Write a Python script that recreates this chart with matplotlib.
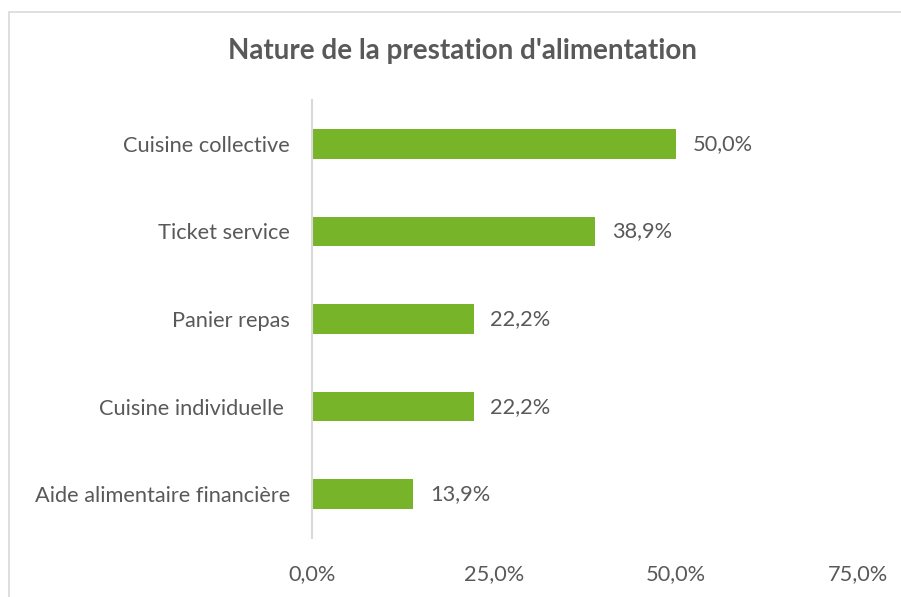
import matplotlib.pyplot as plt
from matplotlib.patches import Rectangle

categories = ["Cuisine collective", "Ticket service", "Panier repas",
              "Cuisine individuelle ", "Aide alimentaire financière"]
values = [50.0, 38.9, 22.2, 22.2, 13.9]
xticks = [0, 25, 50, 75]
title = "Nature de la prestation d'alimentation"

grey = "#595959"
green = "#77B42A"
plt.rcParams['font.family'] = ['Lato', 'DejaVu Sans']
fs = 15.7

fig = plt.figure(figsize=(9.01, 5.97), dpi=100)
# chart border (only top and left visible, rest cropped)
fig.patches.append(Rectangle((8.5 / 901, -0.1), 1.2, 1.1 - 11.5 / 597, transform=fig.transFigure,
                             fill=False, edgecolor="#D9D9D9", linewidth=1.2))

ax = fig.add_axes([312 / 901, 59 / 597, 546 / 901, 438 / 597])
y = list(range(len(categories)))
ax.barh(y, values, height=0.34, color=green)
ax.set_ylim(len(categories) - 0.5, -0.5)
ax.set_xlim(0, 75)
ax.set_yticks(y)
ax.set_yticklabels(categories, fontsize=fs, color=grey)
ax.set_xticks(xticks)
ax.set_xticklabels([f"{t:.1f}%".replace(".", ",") for t in xticks], fontsize=fs, color=grey)
ax.tick_params(axis="both", length=0)
ax.tick_params(axis="y", pad=16)
ax.tick_params(axis="x", pad=19)
for s in ["top", "right", "bottom"]:
    ax.spines[s].set_visible(False)
ax.spines["left"].set_color("#D9D9D9")
ax.spines["left"].set_linewidth(1.5)

for yi, v in zip(y, values):
    ax.annotate(f"{v:.1f}%".replace(".", ","), (v, yi), xytext=(12, 0), textcoords="offset points",
                va="center", ha="left", fontsize=fs, color=grey)

fig.text(462 / 901, 1 - 51 / 597, title, ha="center", va="center",
         fontsize=20, fontweight="bold", color=grey)

fig.savefig("out.png", dpi=100)
